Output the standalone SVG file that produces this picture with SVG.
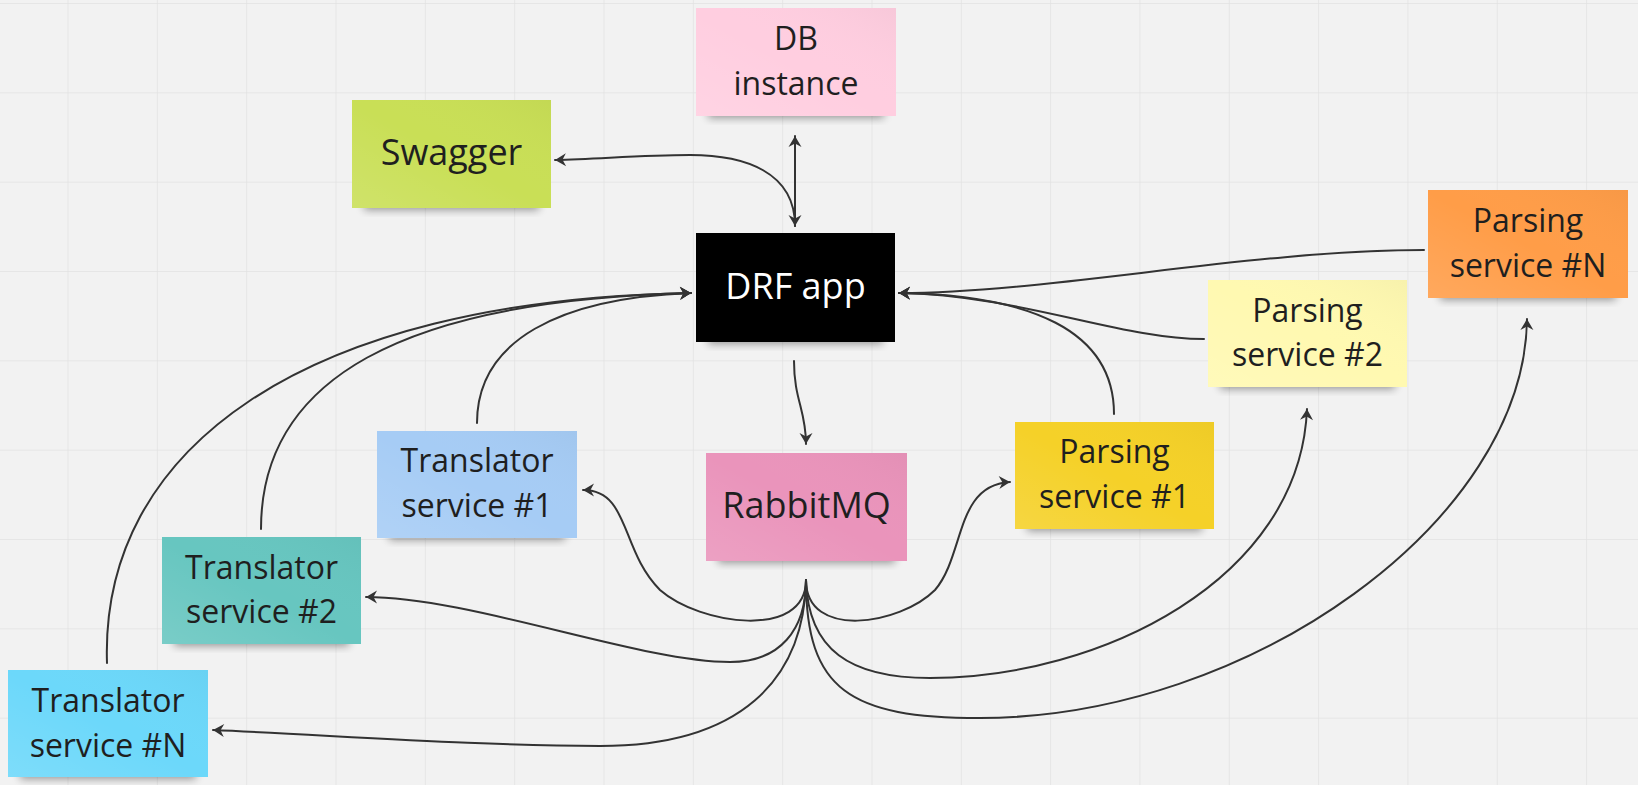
<svg xmlns="http://www.w3.org/2000/svg" width="1638" height="785" viewBox="0 0 1638 785">
<defs>
<pattern id="grid" x="67.5" y="3" width="89.33" height="89.33" patternUnits="userSpaceOnUse">
<path d="M0,0 H89.33 M0,0 V89.33" fill="none" stroke="#e2e2e2" stroke-width="1.5"/>
</pattern>
<filter id="sh" x="-20%" y="-50%" width="140%" height="200%">
<feGaussianBlur stdDeviation="4"/>
</filter>
<linearGradient id="gl" x1="0" y1="1" x2="1" y2="0">
<stop offset="0" stop-color="#ffffff" stop-opacity="0.12"/>
<stop offset="0.5" stop-color="#ffffff" stop-opacity="0"/>
<stop offset="1" stop-color="#000000" stop-opacity="0.03"/>
</linearGradient>
<marker id="ah" viewBox="-12 -7 14 14" refX="0" refY="0" markerWidth="14" markerHeight="14" markerUnits="userSpaceOnUse" orient="auto-start-reverse">
<path d="M0,0 L-11,-6.5 L-7.5,0 L-11,6.5 Z" fill="#333333"/>
</marker>
</defs>
<style>
.note{stroke:none}
.shadow{fill:#000;opacity:0.38;filter:url(#sh)}
.t{font-family:"Open Sans","Noto Sans",sans-serif;fill:#1f1f1f;text-anchor:middle}
.t32{font-size:32px}
.t36{font-size:36px}
.w{fill:#ffffff}
.c{fill:none;stroke:#333333;stroke-width:2;stroke-linecap:round}
.a{marker-end:url(#ah)}
</style>
<rect width="1638" height="785" fill="#f2f2f2"/>
<rect width="1638" height="785" fill="url(#grid)"/>

<g id="db">
<rect class="shadow" x="708" y="104" width="176" height="14"/>
<rect class="note" x="696" y="8" width="200" height="108" fill="#ffcee0"/>
<rect x="696" y="8" width="200" height="108" fill="url(#gl)"/>
<text class="t t32" x="796" y="50">DB</text>
<text class="t t32" x="796" y="95">instance</text>
</g>

<g id="swagger">
<rect class="shadow" x="364" y="196" width="175" height="14"/>
<rect class="note" x="352" y="100" width="199" height="108" fill="#c9df56"/>
<rect x="352" y="100" width="199" height="108" fill="url(#gl)"/>
<text class="t t36" x="451.5" y="165">Swagger</text>
</g>

<g id="drf">
<rect class="shadow" x="708" y="330" width="175" height="14"/>
<rect class="note" x="696" y="233" width="199" height="109" fill="#000000"/>
<text class="t t36 w" x="795.5" y="299">DRF app</text>
</g>

<g id="rabbitmq">
<rect class="shadow" x="718" y="549" width="177" height="14"/>
<rect class="note" x="706" y="453" width="201" height="108" fill="#ea94bb"/>
<rect x="706" y="453" width="201" height="108" fill="url(#gl)"/>
<text class="t t36" x="806.5" y="518">RabbitMQ</text>
</g>

<g id="translator1">
<rect class="shadow" x="389" y="526" width="176" height="14"/>
<rect class="note" x="377" y="431" width="200" height="107" fill="#a6ccf5"/>
<rect x="377" y="431" width="200" height="107" fill="url(#gl)"/>
<text class="t t32" x="477" y="472">Translator</text>
<text class="t t32" x="477" y="517">service #1</text>
</g>

<g id="translator2">
<rect class="shadow" x="174" y="632" width="175" height="14"/>
<rect class="note" x="162" y="537" width="199" height="107" fill="#67c6c0"/>
<rect x="162" y="537" width="199" height="107" fill="url(#gl)"/>
<text class="t t32" x="261.5" y="579">Translator</text>
<text class="t t32" x="261.5" y="623">service #2</text>
</g>

<g id="translatorN">
<rect class="shadow" x="20" y="765" width="176" height="14"/>
<rect class="note" x="8" y="670" width="200" height="107" fill="#6cd8fa"/>
<rect x="8" y="670" width="200" height="107" fill="url(#gl)"/>
<text class="t t32" x="108" y="712">Translator</text>
<text class="t t32" x="108" y="757">service #N</text>
</g>

<g id="parsing1">
<rect class="shadow" x="1027" y="517" width="175" height="14"/>
<rect class="note" x="1015" y="422" width="199" height="107" fill="#f5d128"/>
<rect x="1015" y="422" width="199" height="107" fill="url(#gl)"/>
<text class="t t32" x="1114.5" y="463">Parsing</text>
<text class="t t32" x="1114.5" y="508">service #1</text>
</g>

<g id="parsing2">
<rect class="shadow" x="1220" y="375" width="175" height="14"/>
<rect class="note" x="1208" y="280" width="199" height="107" fill="#fff9b1"/>
<rect x="1208" y="280" width="199" height="107" fill="url(#gl)"/>
<text class="t t32" x="1307.5" y="322">Parsing</text>
<text class="t t32" x="1307.5" y="366">service #2</text>
</g>

<g id="parsingN">
<rect class="shadow" x="1440" y="286" width="176" height="14"/>
<rect class="note" x="1428" y="190" width="200" height="108" fill="#ff9d48"/>
<rect x="1428" y="190" width="200" height="108" fill="url(#gl)"/>
<text class="t t32" x="1528" y="232">Parsing</text>
<text class="t t32" x="1528" y="277">service #N</text>
</g>

<g id="connectors">
<path class="c a" d="M795,136 V226" marker-start="url(#ah)"/>
<path class="c a" d="M795,226 C795,172 745,155 690,155 C640,155 600,159 555,160"/>
<path class="c a" d="M794,361 C794,400 806,410 806,444"/>
<path class="c a" d="M477,423 C477,340 560,298 691,293"/>
<path class="c a" d="M261,529 C261,380 400,300 691,293"/>
<path class="c a" d="M107,663 C100,450 300,300 691,293"/>
<path class="c a" d="M1424,250 C1250,250 1050,293 899,293"/>
<path class="c a" d="M1204,339 C1120,339 1020,295 899,293"/>
<path class="c a" d="M1114,414 C1114,330 1030,295 899,293"/>
<path class="c a" d="M806,580 C806,640 700,625 660,590 C620,550 630,490 583,490"/>
<path class="c a" d="M806,580 C806,640 900,625 935,590 C965,555 955,485 1010,482"/>
<path class="c a" d="M806,580 C806,630 780,662 730,662 C640,662 470,597 366,597"/>
<path class="c a" d="M806,580 C804,680 740,746 600,746 C480,746 330,735 213,730"/>
<path class="c a" d="M806,580 C808,650 850,678 930,678 C1100,678 1300,580 1307,409"/>
<path class="c a" d="M806,580 C806,690 850,718 980,718 C1250,718 1525,520 1527,319"/>
</g>
</svg>
